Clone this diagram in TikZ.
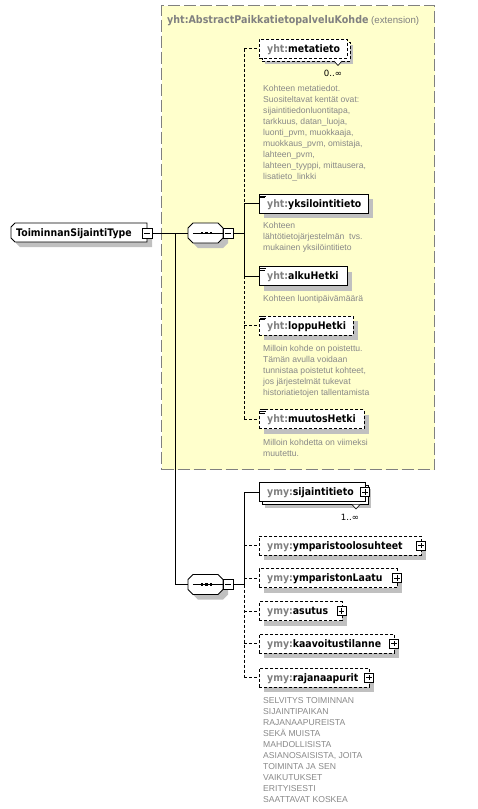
\documentclass[tikz,border=0pt]{standalone}
\usepackage{fontspec}
\setmainfont{Liberation Sans}
\newfontfamily\dvs{DejaVu Sans}
\newfontfamily\dvn[FakeStretch=0.9]{DejaVu Sans}
\definecolor{ybg}{RGB}{255,255,204}
\definecolor{ybd}{RGB}{128,128,128}
\definecolor{shad}{RGB}{192,192,192}
\definecolor{desc}{RGB}{136,136,136}
\definecolor{pfx}{RGB}{128,128,128}
\newcommand{\pf}[1]{\textcolor{pfx}{#1}}
\newcommand{\nmfont}{\dvn\bfseries\fontsize{10.4}{12}\selectfont}
\newcommand{\dsfont}{\fontsize{8.6}{11}\selectfont}
\newcommand{\xelem}[5]{%
  \fill[shad] (264,#3-4.5) rectangle (#2+5,#3+14.5);
  \node[#4, minimum width={#2-259}, anchor=west] (#1) at (259,#3) {};
  \node[nametext] (#1t) at (267,#3+3.7) {#5};
}
\newcommand{\xmulti}[5]{%
  \fill[shad] (265,#3-3.5) rectangle (#2+6,#3+15.5);
  \node[#4, minimum width={#2-259}, anchor=west] (#1b) at (262,#3+3) {};
  \draw[tri] (#2-13,#3+12.5) -- (#2-9,#3+17) -- (#2-5,#3+12.5);
  \node[#4, minimum width={#2-259}, anchor=west] (#1) at (259,#3) {};
  \node[nametext] (#1t) at (267,#3+3.7) {#5};
}
\newcommand{\xicon}[1]{%
  \draw[line width=0.6pt] (259.5,#1-9.3) -- (266,#1-9.3) (259.5,#1-7.6) -- (266,#1-7.6) (259.5,#1-5.9) -- (265,#1-5.9);
}
% octagon (sequence compositor): name, cx, cy
\newcommand{\xocto}[3]{%
  \fill[shad] (#2-12.5+5,#3-10+5) -- (#2+12.5+5,#3-10+5) -- (#2+17.5+5,#3-5+5) -- (#2+17.5+5,#3+5+5) -- (#2+12.5+5,#3+10+5) -- (#2-12.5+5,#3+10+5) -- (#2-17.5+5,#3+5+5) -- (#2-17.5+5,#3-5+5) -- cycle;
  \node[seqnode] (#1) at (#2,#3) {};
  \draw[outl] (#2-12.5,#3-10) -- (#2+12.5,#3-10) -- (#2+17.5,#3-5) -- (#2+17.5,#3+5) -- (#2+12.5,#3+10) -- (#2-12.5,#3+10) -- (#2-17.5,#3+5) -- (#2-17.5,#3-5) -- cycle;
  \draw[line width=0.7pt] ([xshift=5pt]#1.west) -- ([xshift=-0.5pt]#1.east);
  \foreach \dx in {-3.5,1,5.5} \fill ([xshift={\dx-1.3}, yshift=-1.3pt]#1.center) rectangle ([xshift={\dx+1.3}, yshift=1.3pt]#1.center);
}
\begin{document}
\begin{tikzpicture}[x=1pt,y=-1pt,
  extbox/.style={draw=ybd, fill=ybg, line width=1.2pt, dash pattern=on 12pt off 4pt, inner sep=0},
  reqbox/.style={draw=black, fill=white, line width=0.8pt, inner sep=0, minimum height=19pt},
  optbox/.style={reqbox, dash pattern=on 3pt off 2pt},
  nametext/.style={font=\nmfont, inner sep=0, anchor=base west},
  desctext/.style={font=\dsfont, text=desc, align=left, inner sep=0, anchor=north west},
  occ/.style={font=\dvs\fontsize{8.6}{10}\selectfont, inner sep=0},
  conn/.style={line width=0.8pt, draw=black},
  optconn/.style={conn, dash pattern=on 3pt off 2pt},
  tri/.style={draw=black, fill=white, line width=0.6pt},
  outl/.style={draw=black, fill=white, line width=0.8pt},
  pmbox/.style={draw=black, fill=white, line width=0.7pt, minimum size=9pt, inner sep=0},
  plusbox/.style={pmbox, path picture={\draw[line width=0.7pt] ([xshift=1.8pt]path picture bounding box.west) -- ([xshift=-1.8pt]path picture bounding box.east) ([yshift=-1.8pt]path picture bounding box.north) -- ([yshift=1.8pt]path picture bounding box.south);}},
  minusbox/.style={pmbox, path picture={\draw[line width=0.7pt] ([xshift=1.8pt]path picture bounding box.west) -- ([xshift=-1.8pt]path picture bounding box.east);}},
  seqnode/.style={draw=none, minimum width=35pt, minimum height=20pt, inner sep=0},
  mainnode/.style={draw=none, minimum width=136pt, minimum height=19pt, inner sep=0}
]
\useasboundingbox (0,0) rectangle (477,809);

% extension box
\node[extbox, minimum width=273pt, minimum height=464pt, anchor=north west] (ext) at (161,5) {};
\node[anchor=base west, inner sep=0, text=pfx] (title) at (167,23.5)
  {{\dvn\bfseries\fontsize{10.6}{12}\selectfont yht:AbstractPaikkatietopalveluKohde}{\fontsize{9.7}{11}\selectfont{} (extension)}};

% main type node (left corners chamfered)
\fill[shad] (20,228) -- (152,228) -- (152,247) -- (20,247) -- (16,243) -- (16,232) -- cycle;
\node[mainnode] (main) at (79,232.5) {};
\draw[outl] (15,223) -- (147,223) -- (147,242) -- (15,242) -- (11,238) -- (11,227) -- cycle;
\node[nametext] (maint) at (16,236.3) {ToiminnanSijaintiType};
\node[minusbox, minimum size=10pt] (mainpm) at (147,233) {};

% sequence compositors
\xocto{seq1}{205.5}{233}
\node[minusbox, minimum size=10pt] (s1pm) at (228,233) {};
\xocto{seq2}{205.5}{584.5}
\node[minusbox, minimum size=10pt] (s2pm) at (228,584.5) {};

% main connectors
\coordinate (ja) at (175,233);
\coordinate (jb) at (175,584.5);
\draw[conn] (mainpm.east) -- (seq1.west);
\draw[conn] (ja) -- (jb) -- (seq2.west);

% elements in extension
\xmulti{e1}{347}{48.5}{optbox}{\pf{yht:}metatieto}
\node[occ] (o1) at (333,73) {0..∞};
\node[desctext] (d1) at (263,84.7) {Kohteen metatiedot.\\Suositeltavat kentät ovat:\\sijaintitiedonluontitapa,\\tarkkuus, datan\_luoja,\\luonti\_pvm, muokkaaja,\\muokkaus\_pvm, omistaja,\\lahteen\_pvm,\\lahteen\_tyyppi, mittausera,\\lisatieto\_linkki};

\xelem{e2}{368}{203.5}{reqbox}{\pf{yht:}yksilointitieto}
\xicon{203.5}
\node[desctext] (d2) at (263,221.7) {Kohteen\\lähtötietojärjestelmän\ \ tvs.\\mukainen yksilöintitieto};

\xelem{e3}{347}{276}{reqbox}{\pf{yht:}alkuHetki}
\xicon{276}
\node[desctext] (d3) at (263,294.7) {Kohteen luontipäivämäärä};

\xelem{e4}{353}{325.5}{optbox}{\pf{yht:}loppuHetki}
\xicon{325.5}
\node[desctext] (d4) at (263,344.7) {Milloin kohde on poistettu.\\Tämän avulla voidaan\\tunnistaa poistetut kohteet,\\jos järjestelmät tukevat\\historiatietojen tallentamista};

\xelem{e5}{364}{419}{optbox}{\pf{yht:}muutosHetki}
\xicon{419}
\node[desctext] (d5) at (263,438.7) {Milloin kohdetta on viimeksi\\muutettu.};

% connectors upper
\coordinate (a1) at (244,48.5);
\coordinate (a2) at (244,203.5);
\coordinate (a3) at (244,276);
\coordinate (a4) at (244,325.5);
\coordinate (a5) at (244,419);
\coordinate (aj) at (244,233);
\draw[conn] (s1pm.east) -- (aj);
\draw[optconn] (a1) -- (a2);
\draw[conn] (a2) -- (a3);
\draw[optconn] (a3) -- (a5);
\draw[optconn] (a1) -- (e1.west);
\draw[conn] (a2) -- (e2.west);
\draw[conn] (a3) -- (e3.west);
\draw[optconn] (a4) -- (e4.west);
\draw[optconn] (a5) -- (e5.west);

% elements lower
\xmulti{f1}{365}{492}{reqbox}{\pf{ymy:}sijaintitieto}
\node[plusbox] (f1pm) at (365,492) {};
\node[occ] (o2) at (350,517) {1..∞};

\xelem{f2}{421}{545.5}{optbox}{\pf{ymy:}ymparistoolosuhteet}
\node[plusbox] (f2pm) at (421,545.5) {};

\xelem{f3}{397}{578}{optbox}{\pf{ymy:}ymparistonLaatu}
\node[plusbox] (f3pm) at (397,578) {};

\xelem{f4}{341.5}{611}{optbox}{\pf{ymy:}asutus}
\node[plusbox] (f4pm) at (341.5,611) {};

\xelem{f5}{394}{643.5}{optbox}{\pf{ymy:}kaavoitustilanne}
\node[plusbox] (f5pm) at (394,643.5) {};

\xelem{f6}{369}{677.5}{optbox}{\pf{ymy:}rajanaapurit}
\node[plusbox] (f6pm) at (369,677.5) {};
\node[desctext] (d6) at (263,696.9) {SELVITYS TOIMINNAN\\SIJAINTIPAIKAN\\RAJANAAPUREISTA\\SEKÄ MUISTA\\MAHDOLLISISTA\\ASIANOSAISISTA, JOITA\\TOIMINTA JA SEN\\VAIKUTUKSET\\ERITYISESTI\\SAATTAVAT KOSKEA};

% connectors lower
\coordinate (b1) at (244,492);
\coordinate (b2) at (244,545.5);
\coordinate (b3) at (244,578);
\coordinate (b4) at (244,611);
\coordinate (b5) at (244,643.5);
\coordinate (b6) at (244,677.5);
\coordinate (bj) at (244,584.5);
\draw[conn] (s2pm.east) -- (bj);
\draw[conn] (b1) -- (bj);
\draw[optconn] (bj) -- (b6);
\draw[conn] (b1) -- (f1.west);
\draw[optconn] (b2) -- (f2.west);
\draw[optconn] (b3) -- (f3.west);
\draw[optconn] (b4) -- (f4.west);
\draw[optconn] (b5) -- (f5.west);
\draw[optconn] (b6) -- (f6.west);
\end{tikzpicture}
\end{document}
